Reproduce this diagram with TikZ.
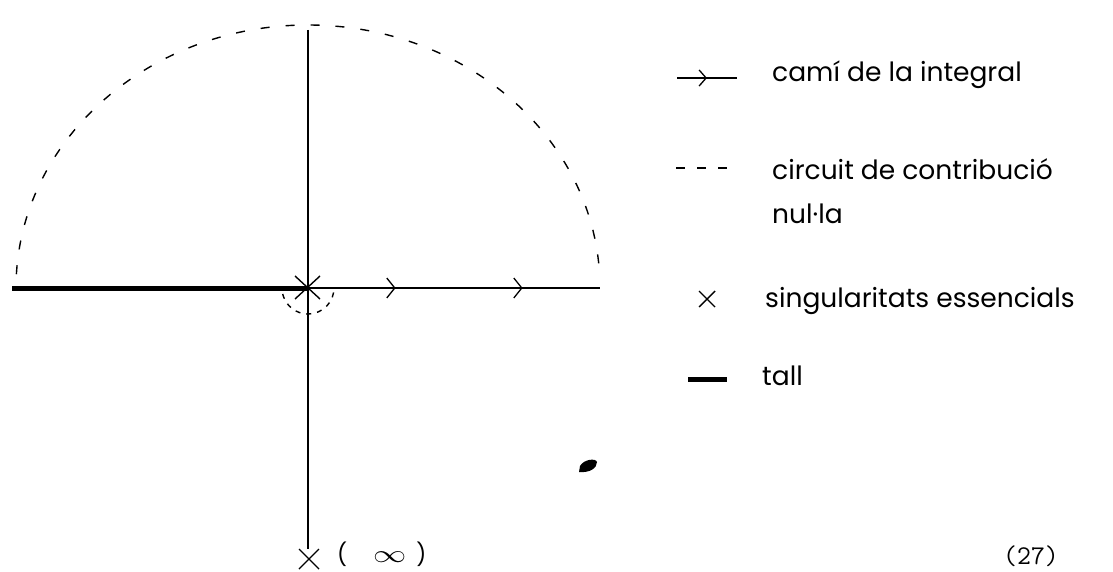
\documentclass[tikz,border=0pt]{standalone}
\usepackage{fontspec}
\setmainfont{Poppins}
\usetikzlibrary{arrows.meta,decorations.markings,calc}
\tikzset{
  axisline/.style={line width=1.3pt, black},
  cutline/.style={line width=5pt, black},
  dashline/.style={line width=1.4pt, dash pattern=on 9pt off 16pt},
  smalldash/.style={line width=1.4pt, dash pattern=on 5pt off 6pt},
  cross/.style={line width=1.4pt},
  legtext/.style={font=\fontsize{26.5}{30}\selectfont, anchor=base west, inner sep=0pt},
}
\begin{document}
\begin{tikzpicture}[x=1pt,y=-1pt]
\useasboundingbox[fill=white] (0,0) rectangle (1113,572);
% coordinates
\coordinate (O) at (308,288);
\coordinate (L) at (12,288);
\coordinate (R) at (600,288);
\coordinate (T) at (308,30);
\coordinate (B) at (308,549);
% big dashed arc
\draw[dashline] (O) ++(183:292 and 263) arc[start angle=183, end angle=357, x radius=292, y radius=263];
% small dashed arc
\draw[smalldash] (O) ++(10:26) arc[start angle=10, end angle=172, radius=26];
% axes
\draw[axisline] (T) -- (B);
\draw[cutline] (L) -- (O);
\draw[axisline, postaction={decorate}, decoration={markings,
   mark=at position 0.30 with {\arrow{Straight Barb[length=8pt,width=20pt,line width=1.3pt]}},
   mark=at position 0.735 with {\arrow{Straight Barb[length=8pt,width=20pt,line width=1.3pt]}}}] (O) -- (R);
% crosses
\draw[cross] ($(O)+(-13,-12)$) -- ($(O)+(12,11)$);
\draw[cross] ($(O)+(-13,11)$) -- ($(O)+(12,-12)$);
\coordinate (XB) at (309,559);
\draw[cross] ($(XB)+(-10,-10)$) -- ($(XB)+(10,10)$);
\draw[cross] ($(XB)+(-10,10)$) -- ($(XB)+(10,-10)$);
\node[font=\fontsize{22}{24}\selectfont, anchor=base west, inner sep=0pt] (inf) at (337,562) {(\hspace{26pt}\scalebox{1.6}[1.2]{$\infty$}\hspace{10pt})};
% ink blot
\fill (580,466) .. controls (584,459) and (596,458) .. (597,462) .. controls (597,468) and (590,473) .. (579,472) -- cycle;
% legend
\coordinate (a1) at (677,78); \coordinate (a2) at (737,78);
\draw[axisline, postaction={decorate}, decoration={markings,
   mark=at position 0.5 with {\arrow{Straight Barb[length=7pt,width=16pt,line width=1.3pt]}}}] (a1) -- (a2);
\node[legtext] (t1) at (772,82) {camí de la integral};
\coordinate (d1) at (676,168); \coordinate (d2) at (733,168);
\draw[line width=1.4pt, dash pattern=on 9pt off 12pt] (d1) -- (d2);
\node[legtext] (t2) at (772,180) {circuit de contribució};
\node[legtext] (t3) at (772,223) {nul·la};
\coordinate (xl) at (707,299);
\draw[cross] ($(xl)+(-8,-8)$) -- ($(xl)+(8,8)$);
\draw[cross] ($(xl)+(-8,8)$) -- ($(xl)+(8,-8)$);
\node[legtext] (t4) at (765,307) {singularitats essencials};
\coordinate (c1) at (688,379); \coordinate (c2) at (727,379);
\draw[cutline] (c1) -- (c2);
\node[legtext] (t5) at (762,385) {tall};
\node[font=\fontsize{27}{29}\selectfont\ttfamily, anchor=base west, inner sep=0pt] (eq) at (1003,564) {(27)};
\end{tikzpicture}
\end{document}
